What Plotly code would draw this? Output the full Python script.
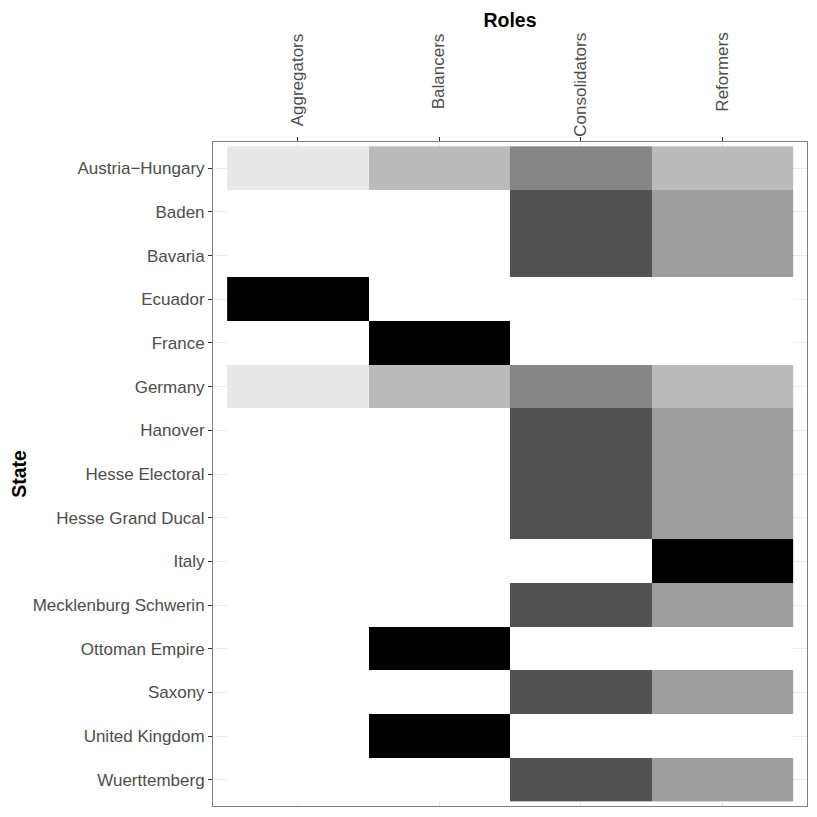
import plotly.graph_objects as go

# data: share of each role per state (0 = none)
states = ["Austria\u2212Hungary", "Baden", "Bavaria", "Ecuador", "France", "Germany",
          "Hanover", "Hesse Electoral", "Hesse Grand Ducal", "Italy",
          "Mecklenburg Schwerin", "Ottoman Empire", "Saxony", "United Kingdom",
          "Wuerttemberg"]
roles = ["Aggregators", "Balancers", "Consolidators", "Reformers"]

aggregators = [0.08, 0, 0, 1, 0, 0.08, 0, 0, 0, 0, 0, 0, 0, 0, 0]
balancers = [0.24, 0, 0, 0, 1, 0.24, 0, 0, 0, 0, 0, 1, 0, 1, 0]
consolidators = [0.44, 0.65, 0.65, 0, 0, 0.44, 0.65, 0.65, 0.65, 0, 0.65, 0, 0.65, 0, 0.65]
reformers = [0.24, 0.35, 0.35, 0, 0, 0.24, 0.35, 0.35, 0.35, 1, 0.35, 0, 0.35, 0, 0.35]

z = [list(row) for row in zip(aggregators, balancers, consolidators, reformers)]


def lab_gray(v):
    # white -> black gradient interpolated in L* (like ggplot's scale_fill_gradient)
    L = 100 * (1 - v)
    Y = ((L + 16) / 116) ** 3 if L > 8 else L / 903.3
    c = 1.055 * Y ** (1 / 2.4) - 0.055 if Y > 0.0031308 else 12.92 * Y
    g = max(0, min(255, round(c * 255)))
    return f"rgb({g},{g},{g})"


n = 40
colorscale = [[i / n, lab_gray(i / n)] for i in range(n + 1)]

# page body has an 8px margin, so the figure is a bit smaller than the window
W = H = 809
L_M, R_M, T_M, B_M = 201, 9, 134, 11
font = "Liberation Sans, Arial, sans-serif"

fig = go.Figure(go.Heatmap(
    z=z, x=roles, y=states,
    zmin=0, zmax=1,
    colorscale=colorscale,
    showscale=False,
))

fig.update_layout(
    width=W, height=H,
    margin=dict(l=L_M, r=R_M, t=T_M, b=B_M),
    paper_bgcolor="white", plot_bgcolor="white",
    font=dict(family=font, color="#4D4D4D", size=17),
    title=dict(text="<b>Roles</b>", x=0.5, xref="paper", xanchor="center",
               y=1 - 12 / H, yanchor="middle",
               font=dict(size=19.5, color="black", family=font)),
)

fig.update_xaxes(
    side="top", range=[-0.6, 3.6],
    showticklabels=False,
    ticks="outside", ticklen=4, tickcolor="#333333", tickwidth=1,
    showgrid=True, gridcolor="#EBEBEB", gridwidth=1,
    showline=True, mirror=True, linecolor="#808080", linewidth=1,
    zeroline=False,
)
fig.update_yaxes(
    categoryorder="array", categoryarray=states,
    range=[len(states) - 0.4, -0.6],
    ticks="outside", ticklen=4, tickcolor="#333333", tickwidth=1,
    showgrid=True, gridcolor="#EBEBEB", gridwidth=1,
    showline=True, mirror=True, linecolor="#808080", linewidth=1,
    zeroline=False,
    tickfont=dict(size=17, color="#4D4D4D"),
    title=dict(text="<b>State</b>", font=dict(size=19.5, color="black"), standoff=2),
)

# rotated role labels above the panel, top-aligned like ggplot's hjust
for r in roles:
    fig.add_annotation(
        x=r, xref="x", y=1 + (T_M - 23) / (H - T_M - B_M), yref="paper",
        text=r, textangle=-90, showarrow=False,
        xanchor="center", yanchor="top",
        font=dict(size=17, color="#4D4D4D", family=font),
    )

fig.write_html("out.html")
